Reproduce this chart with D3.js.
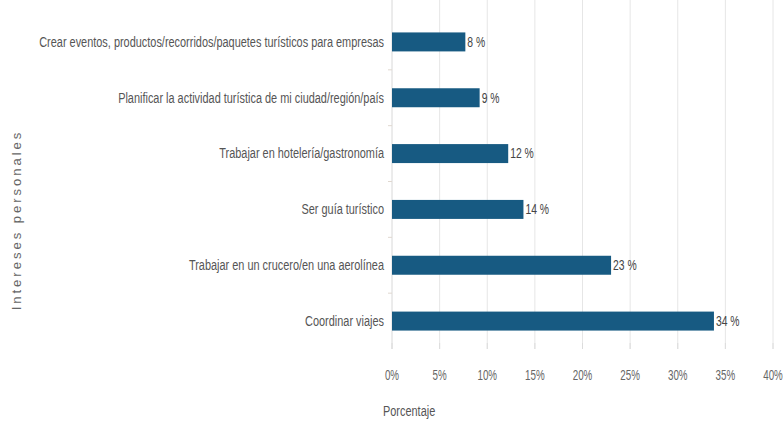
<!DOCTYPE html>
<html><head><meta charset="utf-8">
<script src="https://cdn.jsdelivr.net/npm/d3@7"></script>
<style>
body{margin:0;background:#fff;}
svg{display:block;}
text{font-family:"Liberation Sans",Arial,sans-serif;}
</style></head>
<body><svg id="c" width="783" height="421"></svg>
<script>
const categories = [
  "Crear eventos, productos/recorridos/paquetes turísticos para empresas",
  "Planificar la actividad turística de mi ciudad/región/país",
  "Trabajar en hotelería/gastronomía",
  "Ser guía turístico",
  "Trabajar en un crucero/en una aerolínea",
  "Coordinar viajes"
];
const values = [7.7, 9.2, 12.2, 13.8, 23.0, 33.8];
const valueLabels = ["8 %", "9 %", "12 %", "14 %", "23 %", "34 %"];
const xTicks = [0, 5, 10, 15, 20, 25, 30, 35, 40];
const xTickLabels = ["0%", "5%", "10%", "15%", "20%", "25%", "30%", "35%", "40%"];
const xTitle = "Porcentaje";
const yTitle = "Intereses personales";

const svg = d3.select("#c");
const mLeft = 392, mRight = 773, mTop = 14, mBottom = 349;

const x = d3.scaleLinear().domain([0, 40]).range([mLeft, mRight]);
const y = d3.scaleBand().domain(categories).range([mTop, mBottom]).paddingInner(0.66).paddingOuter(0.33);

// condense text horizontally (narrow look)
function narrow(sel, k) {
  sel.each(function() {
    const w = this.getComputedTextLength();
    d3.select(this).attr("textLength", w * k).attr("lengthAdjust", "spacingAndGlyphs");
  });
}

// gridlines
svg.append("g").selectAll("line").data(xTicks).join("line")
  .attr("x1", d => x(d)).attr("x2", d => x(d))
  .attr("y1", 0).attr("y2", mBottom)
  .attr("stroke", d => d === 0 ? "#d8d8d8" : "#e6e6e6").attr("stroke-width", 1);

// bottom tick marks
svg.append("g").selectAll("line").data(xTicks).join("line")
  .attr("x1", d => x(d)).attr("x2", d => x(d))
  .attr("y1", mBottom - 6).attr("y2", mBottom)
  .attr("stroke", "#dcdcdc");

// category boundary ticks on y axis
const step = y.step();
svg.append("g").selectAll("line").data(categories.slice(1)).join("line")
  .attr("x1", mLeft - 4).attr("x2", mLeft)
  .attr("y1", d => y(d) - (step - y.bandwidth()) / 2)
  .attr("y2", d => y(d) - (step - y.bandwidth()) / 2)
  .attr("stroke", "#e0d8d0");

// bars
svg.append("g").selectAll("rect").data(values).join("rect")
  .attr("x", x(0))
  .attr("y", (d, i) => y(categories[i]))
  .attr("width", d => x(d) - x(0))
  .attr("height", y.bandwidth())
  .attr("fill", "#175a82");

// value labels
svg.append("g").selectAll("text").data(values).join("text")
  .attr("x", d => x(d) + 2)
  .attr("y", (d, i) => y(categories[i]) + y.bandwidth() / 2)
  .attr("dy", "0.35em")
  .attr("font-size", 14)
  .attr("fill", "#444")
  .text((d, i) => valueLabels[i])
  .call(narrow, 0.74);

// category labels
svg.append("g").selectAll("text").data(categories).join("text")
  .attr("x", mLeft - 8)
  .attr("y", d => y(d) + y.bandwidth() / 2)
  .attr("dy", "0.35em")
  .attr("text-anchor", "end")
  .attr("font-size", 14)
  .attr("fill", "#555")
  .text(d => d)
  .call(narrow, 0.78);

// x tick labels
svg.append("g").selectAll("text").data(xTicks).join("text")
  .attr("x", d => x(d))
  .attr("y", 375)
  .attr("dy", "0.35em")
  .attr("text-anchor", "middle")
  .attr("font-size", 14)
  .attr("fill", "#666")
  .text((d, i) => xTickLabels[i])
  .call(narrow, 0.7);

// x title
svg.append("text").attr("x", 383).attr("y", 411).attr("dy", "0.35em")
  .attr("font-size", 14).attr("fill", "#555").text(xTitle)
  .call(narrow, 0.78);

// y title
svg.append("text").attr("transform", "translate(16,220) rotate(-90)")
  .attr("text-anchor", "middle").attr("dy", "0.35em")
  .attr("font-size", 13).attr("letter-spacing", "3px")
  .attr("fill", "#666").text(yTitle);
</script></body></html>
